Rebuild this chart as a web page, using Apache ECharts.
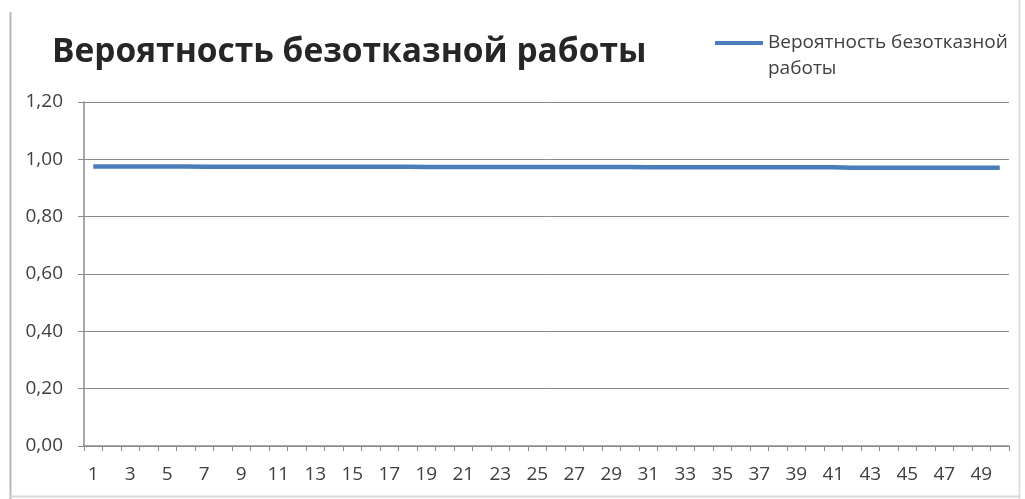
<!DOCTYPE html>
<html>
<head>
<meta charset="utf-8">
<script src="https://cdn.jsdelivr.net/npm/echarts@6/dist/echarts.min.js"></script>
<style>
  html, body { margin: 0; padding: 0; background: #fff; }
  #chart { width: 1025px; height: 499px; }
</style>
</head>
<body>
<div id="chart"></div>
<script>
// Time points (1..50)
const categories = ['1','2','3','4','5','6','7','8','9','10','11','12','13','14','15','16','17','18','19','20',
  '21','22','23','24','25','26','27','28','29','30','31','32','33','34','35','36','37','38','39','40',
  '41','42','43','44','45','46','47','48','49','50'];

// Probability of failure-free operation
const reliability = [0.975,0.975,0.975,0.975,0.975,0.975,0.974,0.974,0.974,0.974,
  0.974,0.974,0.974,0.974,0.974,0.974,0.974,0.974,0.973,0.973,
  0.973,0.973,0.973,0.973,0.973,0.973,0.973,0.973,0.973,0.973,
  0.972,0.972,0.972,0.972,0.972,0.972,0.972,0.972,0.972,0.972,
  0.972,0.971,0.971,0.971,0.971,0.971,0.971,0.971,0.971,0.971];

const seriesName = 'Вероятность безотказной работы';
const titleText = 'Вероятность безотказной работы';
const yTicks = { min: 0, max: 1.2, interval: 0.2 };

const chart = echarts.init(document.getElementById('chart'));
const fontFamily = '"Open Sans", "Noto Sans", sans-serif';

chart.setOption({
  animation: false,
  backgroundColor: '#ffffff',
  title: {
    text: titleText,
    left: 52,
    top: 35,
    padding: 0,
    textStyle: { fontFamily: fontFamily, fontWeight: 'bold', fontSize: 33.5, color: '#262626' }
  },
  legend: {
    data: [seriesName],
    left: 715,
    top: 4,
    padding: 0,
    itemWidth: 48,
    itemHeight: 4,
    itemGap: 0,
    icon: 'rect',
    // the long name wraps onto two lines; a leading empty line keeps the marker level with the first line
    formatter: function (name) { return '\n' + name.replace(' работы', '\nработы'); },
    textStyle: { fontFamily: fontFamily, fontSize: 19, color: '#404040', lineHeight: 26 }
  },
  grid: { left: 84, right: 16, top: 102, bottom: 53, containLabel: false },
  xAxis: {
    type: 'category',
    data: categories,
    boundaryGap: true,
    axisLine: { lineStyle: { color: '#8c8c8c', width: 1.5 } },
    axisTick: { show: true, interval: 0, length: 5, lineStyle: { color: '#8c8c8c' } },
    axisLabel: { interval: 1, color: '#404040', fontFamily: fontFamily, fontSize: 19, margin: 19 },
    splitLine: { show: false }
  },
  yAxis: {
    type: 'value',
    min: yTicks.min,
    max: yTicks.max,
    interval: yTicks.interval,
    axisLine: { show: true, lineStyle: { color: '#8c8c8c', width: 1.5 } },
    axisTick: { show: true, length: 6, lineStyle: { color: '#8c8c8c' } },
    axisLabel: {
      color: '#404040', fontFamily: fontFamily, fontSize: 19, margin: 21,
      formatter: function (v) { return v.toFixed(2).replace('.', ','); }
    },
    splitLine: { show: true, lineStyle: { color: '#8a8a8a', width: 1 } }
  },
  graphic: [
    { type: 'line', shape: { x1: 10.5, y1: 12, x2: 10.5, y2: 499 }, style: { stroke: '#b8b8b8', lineWidth: 2 } },
    { type: 'line', shape: { x1: 1019.5, y1: 0, x2: 1019.5, y2: 499 }, style: { stroke: '#e0e0e0', lineWidth: 2 } },
    { type: 'line', shape: { x1: 10, y1: 496.5, x2: 1020, y2: 496.5 }, style: { stroke: '#d8d8d8', lineWidth: 2 } }
  ],
  series: [{
    name: seriesName,
    type: 'line',
    data: reliability,
    symbol: 'none',
    lineStyle: { color: '#4a7ebb', width: 4.5 },
    itemStyle: { color: '#4a7ebb' }
  }]
});
</script>
</body>
</html>
